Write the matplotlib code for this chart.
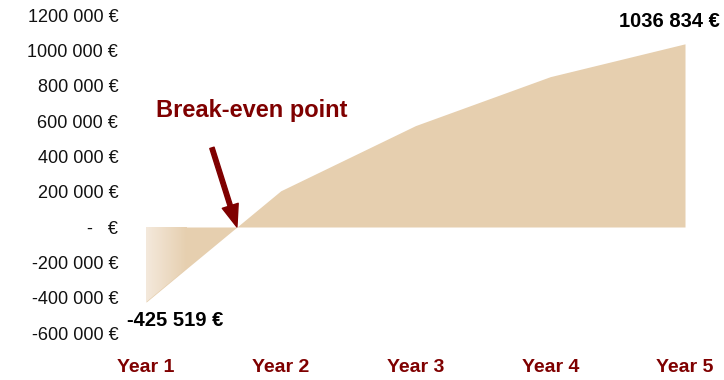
import numpy as np
import matplotlib.pyplot as plt
from matplotlib.colors import to_rgb

years = ["Year 1", "Year 2", "Year 3", "Year 4", "Year 5"]
cash_flow = [-425519, 205000, 574000, 851000, 1036834]
y_ticks = [-600000, -400000, -200000, 0, 200000, 400000, 600000, 800000, 1000000, 1200000]

TAN = "#E6CFAF"
TAN_LIGHT = "#F4E9DC"
DARK_RED = "#7F0000"
FONT = ["Liberation Sans", "DejaVu Sans"]


def euro(v):
    if v == 0:
        return "-   €"
    sign = "-" if v < 0 else ""
    v = abs(v)
    return f"{sign}{v // 1000} {v % 1000:03d} €"


fig = plt.figure(figsize=(7.24, 3.8), dpi=100)
ax = fig.add_axes([146 / 724, 47 / 380, 539 / 724, 318 / 380])

x = np.arange(len(years))
area = ax.fill_between(x, cash_flow, 0, color=TAN, linewidth=0, zorder=2)

# light-to-tan fade at the start of the negative area
grad = np.linspace(0, 1, 256)
c0, c1 = np.array(to_rgb(TAN_LIGHT)), np.array(to_rgb(TAN))
img = (c0[None, :] * (1 - grad[:, None]) + c1[None, :] * grad[:, None])[None, :, :]
im = ax.imshow(img, extent=[0, 0.3, min(cash_flow), 0], aspect="auto",
               interpolation="bilinear", zorder=3)
im.set_clip_path(area.get_paths()[0], transform=ax.transData)

ax.set_xlim(0, len(years) - 1)
ax.set_ylim(y_ticks[0], y_ticks[-1])

ax.set_xticks(x)
ax.set_xticklabels(years, color=DARK_RED, fontsize=14, fontweight="bold", family=FONT)
ax.set_yticks(y_ticks)
ax.set_yticklabels([euro(v) for v in y_ticks], fontsize=13, color="#111111", family=FONT)
ax.tick_params(axis="x", length=0, pad=19)
ax.tick_params(axis="y", length=0, pad=20)
for s in ax.spines.values():
    s.set_visible(False)

# value labels on first and last year
ax.annotate(euro(cash_flow[0]), (x[0], cash_flow[0]), xytext=(21, -13),
            textcoords="offset points", ha="center", va="center",
            fontsize=14.5, fontweight="bold", family=FONT, annotation_clip=False)
ax.annotate(euro(cash_flow[-1]), (x[-1], cash_flow[-1]), xytext=(-11, 16),
            textcoords="offset points", ha="center", va="center",
            fontsize=14.5, fontweight="bold", family=FONT, annotation_clip=False)

# break-even point between year 1 and year 2
be_x = x[0] + cash_flow[0] / (cash_flow[0] - cash_flow[1])
ax.annotate("", xy=(be_x, 0), xytext=(-18, 57), textcoords="offset points",
            arrowprops=dict(arrowstyle="simple,head_width=0.75,head_length=1.0,tail_width=0.2",
                            color=DARK_RED, mutation_scale=16, shrinkA=0, shrinkB=0),
            zorder=5)
ax.annotate("Break-even point", (be_x, 0), xytext=(11, 84), textcoords="offset points",
            ha="center", va="center", fontsize=17, fontweight="bold", color=DARK_RED,
            family=FONT)

fig.savefig("out.png", dpi=100)
